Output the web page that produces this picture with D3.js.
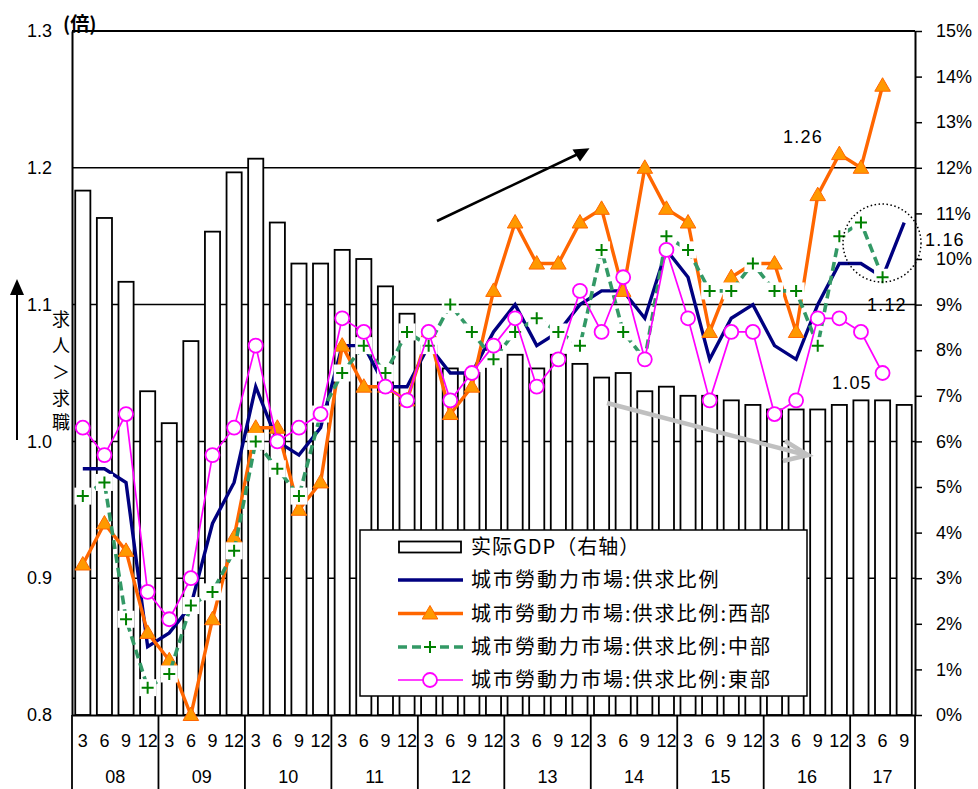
<!DOCTYPE html>
<html><head><meta charset="utf-8">
<script src="https://cdn.jsdelivr.net/npm/d3@7"></script>
<style>body{margin:0;background:#fff;} svg{display:block;background:#fff;}</style>
</head><body><svg id="c" width="978" height="789"></svg>
<script>
// ---------------- DATA ----------------
const categories = [
 "08-3","08-6","08-9","08-12","09-3","09-6","09-9","09-12",
 "10-3","10-6","10-9","10-12","11-3","11-6","11-9","11-12",
 "12-3","12-6","12-9","12-12","13-3","13-6","13-9","13-12",
 "14-3","14-6","14-9","14-12","15-3","15-6","15-9","15-12",
 "16-3","16-6","16-9","16-12","17-3","17-6","17-9"];
const quarterLabels = ["3","6","9","12"];
const yearLabels = ["08","09","10","11","12","13","14","15","16","17"];
// 实际GDP (right axis, %)
const gdp = [11.5,10.9,9.5,7.1, 6.4,8.2,10.6,11.9, 12.2,10.8,9.9,9.9, 10.2,10.0,9.4,8.8,
  8.1,7.6,7.5,8.1, 7.9,7.6,7.9,7.7, 7.4,7.5,7.1,7.2, 7.0,7.0,6.9,6.8, 6.7,6.7,6.7,6.8, 6.9,6.9,6.8];
// 城市勞動力市場:供求比例 (left axis, 倍)
const ratioAll = [0.98,0.98,0.97,0.85, 0.86,0.88,0.94,0.97, 1.04,1.00,0.99,1.01, 1.07,1.07,1.04,1.04,
  1.07,1.05,1.05,1.08, 1.10,1.07,1.08,1.10, 1.11,1.11,1.09,1.14, 1.12,1.06,1.09,1.10, 1.07,1.06,1.10,1.13, 1.13,1.12,1.16];
const ratioWest = [0.91,0.94,0.92,0.86, 0.84,0.80,0.87,0.93, 1.01,1.01,0.95,0.97, 1.07,1.04,1.04,1.03,
  1.08,1.02,1.04,1.11, 1.16,1.13,1.13,1.16, 1.17,1.11,1.20,1.17, 1.16,1.08,1.12,1.13, 1.13,1.08,1.18,1.21, 1.20,1.26,null];
const ratioCentral = [0.96,0.97,0.87,0.82, 0.83,0.88,0.89,0.92, 1.00,0.98,0.96,1.02, 1.05,1.07,1.05,1.08,
  1.07,1.10,1.08,1.06, 1.08,1.09,1.08,1.07, 1.14,1.08,1.06,1.15, 1.14,1.11,1.11,1.13, 1.11,1.11,1.07,1.15, 1.16,1.12,null];
const ratioEast = [1.01,0.99,1.02,0.89, 0.87,0.90,0.99,1.01, 1.07,1.00,1.01,1.02, 1.09,1.08,1.04,1.03,
  1.08,1.03,1.05,1.07, 1.09,1.04,1.06,1.11, 1.08,1.12,1.06,1.14, 1.09,1.03,1.08,1.08, 1.02,1.03,1.09,1.09, 1.08,1.05,null];
const leftTicks = [0.8,0.9,1.0,1.1,1.2,1.3];
const rightTicks = [0,1,2,3,4,5,6,7,8,9,10,11,12,13,14,15];
const legendLabels = ["实际GDP（右轴）","城市勞動力市場:供求比例","城市勞動力市場:供求比例:西部","城市勞動力市場:供求比例:中部","城市勞動力市場:供求比例:東部"];
const annotations = [{t:"1.26"},{t:"1.16"},{t:"1.12"},{t:"1.05"}];

// ---------------- CHART ----------------
const svg = d3.select("#c");
const L = 72, R = 915, T = 31, B = 715;
const latin = "'Liberation Sans', Arial, sans-serif";
const cjk = "'Noto Sans CJK JP','Noto Sans CJK SC', sans-serif";

const x = d3.scaleBand().domain(categories).range([L, R]).paddingInner(0.3).paddingOuter(0.15);
const yL = d3.scaleLinear().domain([0.8, 1.3]).range([B, T]);
const yR = d3.scaleLinear().domain([0, 15]).range([B, T]);
const cx = c => x(c) + x.bandwidth() / 2;
const step = x.step();

// gridlines
svg.append("g").selectAll("line").data(leftTicks.filter(d => d > 0.8)).join("line")
  .attr("x1", L).attr("x2", R).attr("y1", d => yL(d)).attr("y2", d => yL(d))
  .attr("stroke", "#000").attr("stroke-width", 1.5);

// bars
svg.append("g").selectAll("rect").data(gdp).join("rect")
  .attr("x", (d, i) => x(categories[i])).attr("width", x.bandwidth())
  .attr("y", d => yR(d)).attr("height", d => B - yR(d))
  .attr("fill", "#fff").attr("stroke", "#000").attr("stroke-width", 1.8);

// axes
const gl = svg.append("g").attr("transform", `translate(${L},0)`)
  .call(d3.axisLeft(yL).tickValues(leftTicks).tickSize(0).tickSizeOuter(0).tickPadding(20).tickFormat(d3.format(".1f")));
gl.select(".domain").attr("stroke-width", 2);
gl.selectAll("text").attr("font-family", latin).attr("font-size", 18).attr("fill", "#000");

const gr = svg.append("g").attr("transform", `translate(${R},0)`)
  .call(d3.axisRight(yR).tickValues(rightTicks).tickSize(7).tickSizeOuter(0).tickPadding(14).tickFormat(d => d + "%"));
gr.select(".domain").attr("stroke-width", 2);
gr.selectAll("line").attr("stroke-width", 1.5);
gr.selectAll("text").attr("font-family", latin).attr("font-size", 18).attr("fill", "#000");

// top border
svg.append("line").attr("x1", L).attr("x2", R).attr("y1", T).attr("y2", T).attr("stroke", "#000").attr("stroke-width", 2);

const gb = svg.append("g").attr("transform", `translate(0,${B})`)
  .call(d3.axisBottom(x).tickSize(0).tickSizeOuter(0).tickPadding(19).tickFormat((d, i) => quarterLabels[i % 4]));
gb.select(".domain").attr("stroke-width", 2);
gb.selectAll("text").attr("font-family", latin).attr("font-size", 18).attr("fill", "#000");

// year separators & labels
const sepIdx = [0, 4, 8, 12, 16, 20, 24, 28, 32, 36];
svg.append("g").selectAll("line").data(sepIdx.map(i => x(categories[i]) - step * 0.15).concat([R])).join("line")
  .attr("x1", d => d).attr("x2", d => d).attr("y1", B).attr("y2", 789)
  .attr("stroke", "#000").attr("stroke-width", 1.8);
svg.append("g").selectAll("text").data(yearLabels).join("text")
  .attr("x", (d, k) => {
    const a = sepIdx[k], b = Math.min(a + 3, categories.length - 1);
    return (cx(categories[a]) + cx(categories[b])) / 2;
  })
  .attr("y", 783).attr("text-anchor", "middle")
  .attr("font-family", latin).attr("font-size", 18).text(d => d);

// lines
function series(vals) { return vals.map((v, i) => ({c: categories[i], v})).filter(d => d.v != null); }
const line = d3.line().x(d => cx(d.c)).y(d => yL(d.v));

// all
svg.append("path").datum(series(ratioAll)).attr("d", line)
  .attr("fill", "none").attr("stroke", "#000080").attr("stroke-width", 3.4).attr("stroke-linejoin", "miter");

// west
svg.append("path").datum(series(ratioWest)).attr("d", line)
  .attr("fill", "none").attr("stroke", "#FF6600").attr("stroke-width", 3.4);
const tri = d3.symbol().type(d3.symbolTriangle).size(105);
svg.append("g").selectAll("path").data(series(ratioWest)).join("path")
  .attr("d", tri).attr("transform", d => `translate(${cx(d.c)},${yL(d.v) + 1})`)
  .attr("fill", "#FF9900").attr("stroke", "#FF6600").attr("stroke-width", 1);

// central
svg.append("path").datum(series(ratioCentral)).attr("d", line)
  .attr("fill", "none").attr("stroke", "#339966").attr("stroke-width", 3.6).attr("stroke-dasharray", "9,5");
const pg = svg.append("g").selectAll("g").data(series(ratioCentral)).join("g")
  .attr("transform", d => `translate(${cx(d.c)},${yL(d.v)})`);
pg.append("rect").attr("x", -8.5).attr("y", -8.5).attr("width", 17).attr("height", 17).attr("fill", "#fff");
pg.append("path").attr("d", "M-6,0H6M0,-6V6").attr("stroke", "#008000").attr("stroke-width", 2);

// east
svg.append("path").datum(series(ratioEast)).attr("d", line)
  .attr("fill", "none").attr("stroke", "#FF00FF").attr("stroke-width", 1.7);
svg.append("g").selectAll("circle").data(series(ratioEast)).join("circle")
  .attr("cx", d => cx(d.c)).attr("cy", d => yL(d.v)).attr("r", 7)
  .attr("fill", "#fff").attr("stroke", "#FF00FF").attr("stroke-width", 1.8);

// arrows
svg.append("line").attr("x1", 437).attr("y1", 221).attr("x2", 578).attr("y2", 154)
  .attr("stroke", "#000").attr("stroke-width", 2.5);
svg.append("path").attr("d", "M589.5,148.3L572.5,149.5L580,161.5Z").attr("fill", "#000");

svg.append("line").attr("x1", 607).attr("y1", 403).attr("x2", 806).attr("y2", 455)
  .attr("stroke", "#C0C0C0").attr("stroke-width", 4.5);
svg.append("path").attr("d", "M785,441L808,455L783,461").attr("fill", "none")
  .attr("stroke", "#C0C0C0").attr("stroke-width", 4.5).attr("stroke-linejoin", "miter");

// dotted circle
svg.append("circle").attr("cx", 882).attr("cy", 243).attr("r", 39)
  .attr("fill", "none").attr("stroke", "#000").attr("stroke-width", 1.5).attr("stroke-dasharray", "1.5,2.5");

// annotations
const annPos = [[803, 143, "middle"], [925, 246, "start"], [867, 311, "start"], [832, 389, "start"]];
svg.append("g").selectAll("text").data(annotations).join("text")
  .attr("x", (d, i) => annPos[i][0]).attr("y", (d, i) => annPos[i][1]).attr("text-anchor", (d, i) => annPos[i][2])
  .attr("font-family", latin).attr("font-size", 18).attr("letter-spacing", 1.2).text(d => d.t);

// unit label & side label
svg.append("text").attr("x", 63).attr("y", 31).attr("font-family", cjk).attr("font-size", 19).attr("font-weight", "bold").text("(倍)");
svg.append("line").attr("x1", 17).attr("y1", 440).attr("x2", 17).attr("y2", 292).attr("stroke", "#000").attr("stroke-width", 2);
svg.append("path").attr("d", "M17,279L10,295L24,295Z").attr("fill", "#000");
const side = ["求", "人", "＞", "求", "職"];
svg.append("g").selectAll("text").data(side).join("text")
  .attr("x", 61).attr("y", (d, i) => [320, 346, 373, 399, 423][i] + 6).attr("text-anchor", "middle")
  .attr("font-family", cjk).attr("font-size", 18).text(d => d);

// legend
const lg = svg.append("g");
lg.append("rect").attr("x", 360).attr("y", 530).attr("width", 447).attr("height", 166)
  .attr("fill", "#fff").attr("stroke", "#000").attr("stroke-width", 1.5);
const rowY = [547, 580, 613.5, 647, 680];
lg.append("rect").attr("x", 399).attr("y", 541.5).attr("width", 62).attr("height", 11)
  .attr("fill", "#fff").attr("stroke", "#000").attr("stroke-width", 1.8);
lg.append("line").attr("x1", 398).attr("x2", 463).attr("y1", rowY[1]).attr("y2", rowY[1]).attr("stroke", "#000080").attr("stroke-width", 3.4);
lg.append("line").attr("x1", 398).attr("x2", 463).attr("y1", rowY[2]).attr("y2", rowY[2]).attr("stroke", "#FF6600").attr("stroke-width", 3.4);
lg.append("path").attr("d", tri).attr("transform", `translate(430,${rowY[2] + 1})`).attr("fill", "#FF9900").attr("stroke", "#FF6600");
lg.append("line").attr("x1", 398).attr("x2", 463).attr("y1", rowY[3]).attr("y2", rowY[3]).attr("stroke", "#339966").attr("stroke-width", 3.6).attr("stroke-dasharray", "9,5");
lg.append("rect").attr("x", 421.5).attr("y", rowY[3] - 8.5).attr("width", 17).attr("height", 17).attr("fill", "#fff");
lg.append("path").attr("d", `M424,${rowY[3]}H436M430,${rowY[3] - 6}V${rowY[3] + 6}`).attr("stroke", "#008000").attr("stroke-width", 2);
lg.append("line").attr("x1", 398).attr("x2", 463).attr("y1", rowY[4]).attr("y2", rowY[4]).attr("stroke", "#FF00FF").attr("stroke-width", 1.7);
lg.append("circle").attr("cx", 430).attr("cy", rowY[4]).attr("r", 7).attr("fill", "#fff").attr("stroke", "#FF00FF").attr("stroke-width", 1.8);
lg.selectAll("text.l").data(legendLabels).join("text").attr("class", "l")
  .attr("x", 471).attr("y", (d, i) => rowY[i] + 7)
  .attr("font-family", cjk).attr("font-size", 20).attr("letter-spacing", (d, i) => i === 0 ? 1 : 2).text(d => d);
</script></body></html>
